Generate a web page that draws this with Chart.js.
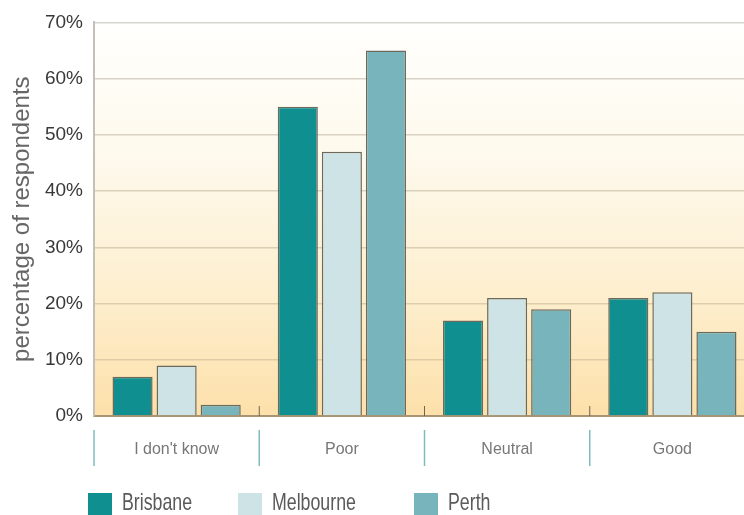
<!DOCTYPE html>
<html>
<head>
<meta charset="utf-8">
<script src="https://cdn.jsdelivr.net/npm/chart.js@4"></script>
<style>
  html, body { margin: 0; padding: 0; background: #fff; overflow: hidden; }
  #wrap { width: 760px; height: 515px; }
</style>
</head>
<body>
<div id="wrap"><canvas id="chart"></canvas></div>
<script>
const categories = ["I don't know", 'Poor', 'Neutral', 'Good'];
const brisbane = [7, 55, 17, 21];
const melbourne = [9, 47, 21, 22];
const perth = [2, 65, 19, 15];
const yTicks = [0, 10, 20, 30, 40, 50, 60, 70];

const seriesColors = ['#0f8f90', '#cde3e6', '#78b4bb'];
const sans = '"Liberation Sans", Arial, sans-serif';

// warm background fading to white at the top
const bgPlugin = {
  id: 'bg',
  beforeDraw(chart) {
    const { ctx, chartArea: a } = chart;
    const g = ctx.createLinearGradient(0, a.top, 0, a.bottom);
    g.addColorStop(0, '#fffffd');
    g.addColorStop(0.35, '#fef9ec');
    g.addColorStop(0.7, '#fdeecd');
    g.addColorStop(1, '#fde0aa');
    ctx.save();
    ctx.fillStyle = g;
    ctx.fillRect(a.left, a.top, a.right - a.left, a.bottom - a.top);
    ctx.restore();
  }
};

// category separators under the axis + small ticks + legend
const extrasPlugin = {
  id: 'extras',
  afterDraw(chart) {
    const { ctx, chartArea: a } = chart;
    const x = chart.scales.x;
    const step = x.getPixelForValue(1) - x.getPixelForValue(0);
    ctx.save();
    for (let i = 0; i <= categories.length; i++) {
      const px = x.getPixelForValue(0) - step / 2 + i * step;
      ctx.strokeStyle = '#7fbcc2';
      ctx.lineWidth = 1.5;
      ctx.beginPath();
      ctx.moveTo(px, a.bottom + 14);
      ctx.lineTo(px, a.bottom + 50);
      ctx.stroke();
      if (i > 0) {
        ctx.strokeStyle = '#6e6450';
        ctx.lineWidth = 1;
        ctx.beginPath();
        ctx.moveTo(px, a.bottom - 10);
        ctx.lineTo(px, a.bottom);
        ctx.stroke();
      }
    }
    // legend (condensed text)
    const starts = [88, 238, 414];
    ctx.font = '24px ' + sans;
    ctx.textBaseline = 'middle';
    chart.data.datasets.forEach((ds, i) => {
      ctx.fillStyle = ds.backgroundColor;
      ctx.fillRect(starts[i], 493, 24, 24);
      ctx.save();
      ctx.translate(starts[i] + 34, 503);
      ctx.scale(0.74, 1);
      ctx.fillStyle = '#5a5a5a';
      ctx.fillText(ds.label, 0, 0);
      ctx.restore();
    });
    ctx.restore();
  }
};

function gridColor(ctx) {
  const v = ctx.tick ? ctx.tick.value : 0;
  if (v === 0) return '#a89472';
  const t = v / 70;
  const r = Math.round(214 + (1 - t) * 10);
  const g = Math.round(212 - (1 - t) * 10);
  const b = Math.round(208 - (1 - t) * 50);
  return `rgb(${r},${g},${b})`;
}

new Chart(document.getElementById('chart'), {
  type: 'bar',
  data: {
    labels: categories,
    datasets: [
      { label: 'Brisbane', data: brisbane, backgroundColor: seriesColors[0] },
      { label: 'Melbourne', data: melbourne, backgroundColor: seriesColors[1] },
      { label: 'Perth', data: perth, backgroundColor: seriesColors[2] }
    ]
  },
  options: {
    responsive: true,
    maintainAspectRatio: false,
    animation: false,
    layout: { padding: { top: 20, right: 5, left: 0, bottom: 0 } },
    datasets: {
      bar: {
        borderColor: '#6d6a5c',
        borderWidth: 1.5,
        categoryPercentage: 0.8,
        barPercentage: 0.91
      }
    },
    plugins: {
      legend: { display: false },
      tooltip: { enabled: false }
    },
    scales: {
      x: {
        grid: { display: false },
        border: { color: '#a89472', width: 2 },
        ticks: {
          color: '#777',
          font: { family: sans, size: 16 },
          padding: 16
        },
        afterFit(s) { s.height = 99; }
      },
      y: {
        min: 0,
        max: 70,
        afterBuildTicks(s) { s.ticks = yTicks.map(v => ({ value: v })); },
        grid: { color: gridColor, lineWidth: 1.5, drawTicks: false },
        border: { color: '#c4c0b8', width: 2 },
        ticks: {
          color: '#383838',
          padding: 11,
          font: { family: sans, size: 19 },
          callback: v => v + '%'
        },
        title: {
          display: true,
          text: 'percentage of respondents',
          color: '#666',
          font: { family: sans, size: 24 },
          padding: { top: 8, bottom: 0 }
        },
        afterFit(s) { s.width = 94; }
      }
    }
  },
  plugins: [bgPlugin, extrasPlugin]
});
</script>
</body>
</html>
